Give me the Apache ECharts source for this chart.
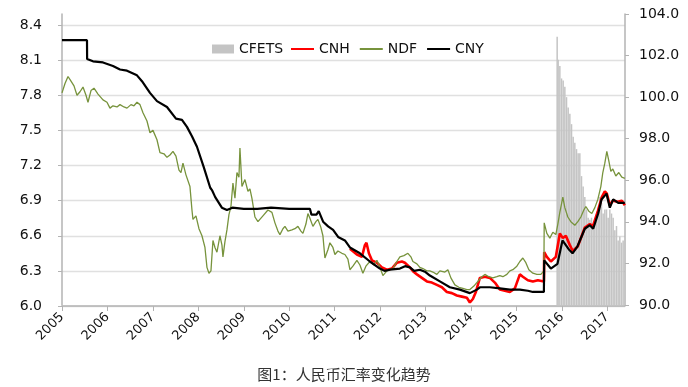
<!DOCTYPE html>
<html><head><meta charset="utf-8">
<script src="https://cdn.jsdelivr.net/npm/echarts@6/dist/echarts.min.js"></script>
<style>html,body{margin:0;padding:0;background:#fff}#c{width:688px;height:387px}</style>
</head><body><div id="c"></div>
<script>
// Decimal years and values
const cnyYears = [2005.000,2005.550,2005.553,2005.682,2005.902,2006.122,2006.276,2006.430,2006.650,2006.760,2006.936,2007.090,2007.310,2007.508,2007.640,2007.750,2007.860,2007.970,2008.116,2008.262,2008.300,2008.372,2008.518,2008.630,2008.750,2009.000,2009.300,2009.600,2010.000,2010.300,2010.456,2010.490,2010.600,2010.650,2010.746,2010.856,2010.966,2011.076,2011.226,2011.336,2011.556,2011.776,2011.996,2012.100,2012.216,2012.436,2012.550,2012.656,2012.750,2012.876,2013.000,2013.096,2013.316,2013.536,2013.756,2013.976,2014.130,2014.196,2014.416,2014.636,2014.856,2015.076,2015.252,2015.362,2015.605,2015.612,2015.758,2015.904,2016.014,2016.162,2016.235,2016.345,2016.506,2016.616,2016.690,2016.800,2016.873,2016.983,2017.056,2017.130,2017.240,2017.386];
const cnyValues = [8.27,8.27,8.11,8.09,8.08,8.05,8.02,8.01,7.97,7.92,7.82,7.75,7.70,7.60,7.59,7.53,7.45,7.36,7.19,7.01,6.99,6.93,6.84,6.82,6.84,6.83,6.83,6.84,6.83,6.83,6.83,6.78,6.78,6.81,6.72,6.68,6.65,6.59,6.56,6.50,6.45,6.38,6.32,6.30,6.31,6.32,6.34,6.33,6.30,6.31,6.29,6.26,6.21,6.16,6.14,6.11,6.14,6.16,6.16,6.15,6.14,6.14,6.13,6.12,6.12,6.39,6.32,6.36,6.56,6.48,6.45,6.51,6.66,6.69,6.66,6.79,6.91,6.96,6.84,6.91,6.88,6.88];

const cnhYears = [2011.336,2011.490,2011.600,2011.666,2011.700,2011.754,2011.820,2011.930,2012.040,2012.150,2012.260,2012.370,2012.480,2012.546,2012.656,2012.744,2012.810,2012.920,2013.030,2013.140,2013.250,2013.360,2013.470,2013.580,2013.690,2013.800,2013.910,2013.976,2014.042,2014.108,2014.196,2014.306,2014.416,2014.526,2014.636,2014.746,2014.856,2014.966,2015.076,2015.142,2015.252,2015.362,2015.472,2015.605,2015.612,2015.670,2015.758,2015.868,2015.956,2016.022,2016.088,2016.176,2016.242,2016.352,2016.506,2016.616,2016.682,2016.792,2016.880,2016.946,2016.990,2017.056,2017.122,2017.232,2017.320,2017.386];
const cnhValues = [6.49,6.44,6.42,6.52,6.54,6.45,6.39,6.37,6.33,6.31,6.32,6.37,6.38,6.37,6.33,6.29,6.27,6.24,6.21,6.20,6.18,6.16,6.12,6.11,6.09,6.08,6.07,6.03,6.06,6.12,6.24,6.25,6.24,6.20,6.14,6.13,6.12,6.15,6.27,6.25,6.22,6.21,6.22,6.21,6.46,6.42,6.38,6.42,6.62,6.58,6.60,6.52,6.47,6.51,6.67,6.70,6.68,6.81,6.93,6.98,6.96,6.86,6.90,6.89,6.90,6.86];

const ndfYears = [2005.000,2005.066,2005.132,2005.198,2005.264,2005.330,2005.396,2005.462,2005.528,2005.572,2005.638,2005.704,2005.792,2005.902,2005.990,2006.056,2006.122,2006.210,2006.276,2006.364,2006.430,2006.518,2006.584,2006.650,2006.716,2006.782,2006.870,2006.936,2007.002,2007.090,2007.156,2007.244,2007.310,2007.376,2007.442,2007.508,2007.574,2007.618,2007.662,2007.728,2007.816,2007.860,2007.882,2007.948,2008.014,2008.080,2008.146,2008.190,2008.234,2008.278,2008.322,2008.366,2008.410,2008.476,2008.520,2008.542,2008.586,2008.630,2008.674,2008.718,2008.762,2008.806,2008.850,2008.894,2008.916,2008.960,2009.026,2009.092,2009.136,2009.180,2009.246,2009.312,2009.356,2009.422,2009.466,2009.532,2009.620,2009.686,2009.752,2009.796,2009.862,2009.906,2009.972,2010.060,2010.126,2010.192,2010.258,2010.302,2010.368,2010.412,2010.456,2010.522,2010.588,2010.632,2010.698,2010.742,2010.786,2010.852,2010.896,2010.962,2011.006,2011.072,2011.160,2011.226,2011.292,2011.336,2011.402,2011.490,2011.556,2011.622,2011.688,2011.776,2011.864,2011.930,2011.996,2012.062,2012.150,2012.216,2012.282,2012.370,2012.436,2012.524,2012.612,2012.678,2012.722,2012.810,2012.876,2012.942,2013.030,2013.096,2013.162,2013.250,2013.316,2013.426,2013.492,2013.558,2013.646,2013.734,2013.822,2013.910,2013.976,2014.064,2014.152,2014.240,2014.306,2014.394,2014.482,2014.570,2014.636,2014.702,2014.790,2014.856,2014.922,2015.010,2015.076,2015.142,2015.208,2015.274,2015.362,2015.450,2015.538,2015.605,2015.612,2015.670,2015.736,2015.802,2015.868,2015.912,2015.956,2016.022,2016.066,2016.132,2016.198,2016.286,2016.352,2016.418,2016.484,2016.528,2016.594,2016.660,2016.726,2016.792,2016.858,2016.902,2016.946,2016.990,2017.034,2017.078,2017.122,2017.188,2017.254,2017.320,2017.386];
const ndfValues = [7.82,7.90,7.96,7.92,7.88,7.80,7.83,7.87,7.80,7.74,7.84,7.86,7.81,7.76,7.74,7.69,7.71,7.70,7.72,7.70,7.69,7.72,7.71,7.74,7.72,7.65,7.58,7.48,7.50,7.42,7.31,7.30,7.27,7.29,7.32,7.28,7.16,7.14,7.22,7.12,7.02,6.82,6.74,6.77,6.66,6.60,6.50,6.33,6.28,6.30,6.56,6.50,6.46,6.60,6.52,6.42,6.55,6.65,6.78,6.85,7.05,6.92,7.14,7.10,7.35,7.02,7.08,6.98,7.00,6.92,6.76,6.72,6.71,6.77,6.76,6.82,6.80,6.71,6.64,6.61,6.66,6.68,6.64,6.65,6.66,6.68,6.64,6.62,6.70,6.79,6.75,6.68,6.72,6.74,6.67,6.60,6.41,6.48,6.54,6.50,6.44,6.47,6.45,6.44,6.40,6.31,6.34,6.39,6.35,6.28,6.34,6.38,6.35,6.39,6.33,6.26,6.30,6.31,6.32,6.38,6.42,6.43,6.45,6.42,6.38,6.36,6.33,6.32,6.30,6.30,6.29,6.27,6.30,6.29,6.31,6.24,6.18,6.16,6.15,6.14,6.14,6.17,6.21,6.25,6.27,6.25,6.24,6.25,6.26,6.25,6.27,6.30,6.31,6.34,6.38,6.41,6.37,6.31,6.28,6.27,6.27,6.30,6.71,6.62,6.58,6.63,6.61,6.70,6.80,6.93,6.84,6.76,6.72,6.69,6.72,6.76,6.82,6.85,6.81,6.79,6.84,6.91,7.02,7.14,7.22,7.32,7.24,7.15,7.17,7.11,7.14,7.10,7.09];

const cfetsYears = [2015.897,2015.919,2015.956,2015.993,2016.029,2016.066,2016.103,2016.139,2016.176,2016.213,2016.249,2016.286,2016.323,2016.359,2016.396,2016.433,2016.469,2016.506,2016.543,2016.579,2016.616,2016.653,2016.689,2016.726,2016.763,2016.799,2016.836,2016.873,2016.909,2016.946,2016.983,2017.019,2017.056,2017.093,2017.129,2017.166,2017.203,2017.239,2017.276,2017.313,2017.349];
const cfetsValues = [102.9,101.8,101.5,100.9,100.8,100.5,100.0,99.5,99.2,98.7,98.1,97.8,97.5,97.3,97.3,96.2,95.7,95.2,94.6,94.2,94.1,94.2,93.9,94.1,94.2,94.6,95.2,94.9,94.4,94.6,94.6,94.2,94.6,94.4,94.2,93.6,93.8,93.1,93.3,93.0,93.1];

const yearMin = 2005, yearMax = 2017.39;
const leftTicks = {min: 6.0, max: 8.4, interval: 0.3};
const rightTicks = {min: 90, max: 104, interval: 2};
const chartTitle = '图1：人民币汇率变化趋势';

const zip = (a, b) => a.map((x, i) => [x, b[i]]);
const FONT = 'DejaVu Sans';
const axisGray = '#b3b3b3';
const legendText = {fontSize: 14, color: '#111', fontFamily: FONT};

const chart = echarts.init(document.getElementById('c'), null, {renderer: 'canvas'});
chart.setOption({
  animation: false,
  backgroundColor: '#fff',
  title: {text: chartTitle, left: 'center', top: 362,
    textStyle: {fontSize: 15, fontWeight: 'normal', color: '#333', fontFamily: 'Noto Sans CJK SC'}},
  legend: [
    {left: 207, top: 37, itemWidth: 22, itemHeight: 9, icon: 'rect', textStyle: legendText,
     data: ['CFETS']},
    {left: 286, top: 37, itemWidth: 23, itemHeight: 2, itemGap: 10, icon: 'rect', textStyle: legendText,
     data: ['CNH', 'NDF', 'CNY']}
  ],
  grid: [
    {left: 62, right: 63, top: 25, bottom: 81},
    {left: 62, right: 63, top: 14, bottom: 82}
  ],
  xAxis: [
    {gridIndex: 0, type: 'value', min: yearMin, max: yearMax, interval: 1,
     axisLine: {show: true, lineStyle: {color: axisGray, width: 1.5}},
     axisTick: {show: true, length: 5, lineStyle: {color: axisGray}},
     splitLine: {show: false},
     axisLabel: {show: true, rotate: 45, margin: 9, fontSize: 13, color: '#111', fontFamily: FONT,
       showMaxLabel: false, formatter: v => String(Math.round(v))}},
    {gridIndex: 1, type: 'value', min: yearMin, max: yearMax, show: false}
  ],
  yAxis: [
    {gridIndex: 0, type: 'value', position: 'left', min: leftTicks.min, max: leftTicks.max, interval: leftTicks.interval,
     axisLine: {show: false},
     axisTick: {show: true, length: 4, lineStyle: {color: axisGray}},
     splitLine: {show: true, lineStyle: {color: '#e0e0e0', width: 1.3}},
     axisLabel: {margin: 20, fontSize: 14, color: '#111', fontFamily: FONT, formatter: v => v.toFixed(1)}},
    {gridIndex: 1, type: 'value', position: 'right', min: rightTicks.min, max: rightTicks.max, interval: rightTicks.interval,
     axisLine: {show: true, lineStyle: {color: axisGray, width: 1.5}},
     axisTick: {show: true, length: 4, lineStyle: {color: axisGray}},
     splitLine: {show: false},
     axisLabel: {margin: 14, fontSize: 14, color: '#111', fontFamily: FONT, formatter: v => v.toFixed(1)}},
    {gridIndex: 1, type: 'value', position: 'left', min: rightTicks.min, max: rightTicks.max,
     axisLine: {show: true, lineStyle: {color: axisGray, width: 1.5}},
     axisTick: {show: false}, axisLabel: {show: false}, splitLine: {show: false}}
  ],
  series: [
    {name: 'CFETS', type: 'bar', xAxisIndex: 1, yAxisIndex: 1, barWidth: 1.5,
     itemStyle: {color: '#c4c4c4'}, data: zip(cfetsYears, cfetsValues)},
    {name: 'CNH', type: 'line', xAxisIndex: 0, yAxisIndex: 0, symbol: 'none',
     lineStyle: {color: '#ff0000', width: 2.6}, itemStyle: {color: '#ff0000'}, data: zip(cnhYears, cnhValues)},
    {name: 'NDF', type: 'line', xAxisIndex: 0, yAxisIndex: 0, symbol: 'none',
     lineStyle: {color: '#77933c', width: 1.3}, itemStyle: {color: '#77933c'}, data: zip(ndfYears, ndfValues)},
    {name: 'CNY', type: 'line', xAxisIndex: 0, yAxisIndex: 0, symbol: 'none',
     lineStyle: {color: '#000000', width: 2.2}, itemStyle: {color: '#000000'}, data: zip(cnyYears, cnyValues)}
  ]
});
</script></body></html>
